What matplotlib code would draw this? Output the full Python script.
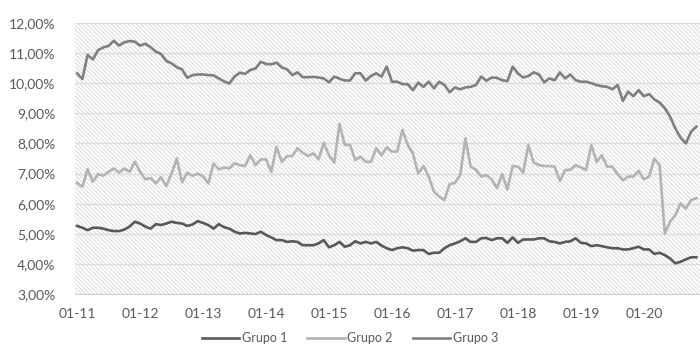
import numpy as np
import matplotlib
matplotlib.use('Agg')
import matplotlib.pyplot as plt
from matplotlib.patches import Rectangle

# Monthly series (%), Jan 2011 onwards
grupo1 = [5.26, 5.20, 5.12, 5.20, 5.20, 5.17, 5.12, 5.09, 5.09, 5.14, 5.24, 5.40,
          5.34, 5.24, 5.17, 5.32, 5.29, 5.34, 5.40, 5.36, 5.34, 5.26, 5.31, 5.42,
          5.36, 5.29, 5.17, 5.32, 5.22, 5.17, 5.07, 5.01, 5.03, 5.01, 4.99, 5.07,
          4.96, 4.88, 4.79, 4.79, 4.73, 4.75, 4.73, 4.62, 4.62, 4.62, 4.68, 4.79,
          4.55, 4.62, 4.73, 4.57, 4.62, 4.75, 4.68, 4.73, 4.68, 4.73, 4.61, 4.52,
          4.46, 4.52, 4.55, 4.52, 4.44, 4.46, 4.46, 4.33, 4.37, 4.37, 4.52, 4.62,
          4.68, 4.75, 4.85, 4.73, 4.73, 4.85, 4.86, 4.79, 4.85, 4.85, 4.70, 4.88,
          4.70, 4.81, 4.81, 4.81, 4.85, 4.85, 4.75, 4.73, 4.68, 4.73, 4.75, 4.85,
          4.70, 4.68, 4.59, 4.62, 4.59, 4.55, 4.52, 4.52, 4.48, 4.48, 4.52, 4.57,
          4.48, 4.48, 4.33, 4.37, 4.29, 4.18, 4.02, 4.07, 4.15, 4.22, 4.22]

grupo2 = [6.69, 6.56, 7.14, 6.73, 6.98, 6.93, 7.06, 7.17, 7.03, 7.17, 7.06, 7.39,
          7.06, 6.81, 6.85, 6.67, 6.88, 6.58, 7.00, 7.50, 6.71, 7.03, 6.92, 7.00,
          6.90, 6.67, 7.34, 7.14, 7.20, 7.17, 7.34, 7.28, 7.25, 7.61, 7.28, 7.47,
          7.47, 7.06, 7.89, 7.39, 7.58, 7.58, 7.84, 7.69, 7.58, 7.67, 7.47, 8.02,
          7.61, 7.36, 8.65, 7.95, 7.95, 7.45, 7.56, 7.39, 7.39, 7.84, 7.61, 7.87,
          7.73, 7.73, 8.45, 7.95, 7.67, 7.00, 7.25, 6.90, 6.40, 6.23, 6.12, 6.65,
          6.69, 6.95, 8.17, 7.23, 7.12, 6.90, 6.95, 6.81, 6.51, 6.98, 6.47, 7.25,
          7.23, 7.03, 7.95, 7.36, 7.28, 7.25, 7.25, 7.23, 6.75, 7.12, 7.12, 7.28,
          7.20, 7.12, 7.95, 7.39, 7.61, 7.23, 7.23, 6.98, 6.77, 6.90, 6.90, 7.09,
          6.81, 6.90, 7.50, 7.28, 5.01, 5.40, 5.62, 6.01, 5.84, 6.12, 6.18]

grupo3 = [10.33, 10.14, 10.94, 10.79, 11.10, 11.19, 11.24, 11.41, 11.25, 11.36, 11.40, 11.38,
          11.25, 11.31, 11.20, 11.05, 10.97, 10.74, 10.66, 10.53, 10.46, 10.18, 10.27, 10.29,
          10.29, 10.27, 10.26, 10.16, 10.06, 9.99, 10.22, 10.35, 10.31, 10.44, 10.49, 10.71,
          10.64, 10.63, 10.68, 10.53, 10.46, 10.27, 10.36, 10.20, 10.20, 10.21, 10.19, 10.16,
          10.03, 10.22, 10.15, 10.09, 10.09, 10.33, 10.33, 10.09, 10.24, 10.33, 10.22, 10.55,
          10.05, 10.05, 9.97, 9.97, 9.77, 10.02, 9.88, 10.05, 9.83, 10.05, 9.94, 9.70,
          9.86, 9.80, 9.86, 9.88, 9.94, 10.22, 10.08, 10.19, 10.18, 10.10, 10.07, 10.55,
          10.33, 10.19, 10.24, 10.36, 10.29, 10.03, 10.16, 10.10, 10.36, 10.16, 10.29, 10.10,
          10.05, 10.05, 10.00, 9.94, 9.90, 9.88, 9.80, 9.94, 9.41, 9.72, 9.57, 9.77,
          9.57, 9.64, 9.46, 9.36, 9.17, 8.89, 8.50, 8.19, 8.00, 8.39, 8.56]

tick_labels = ['01-11', '01-12', '01-13', '01-14', '01-15',
               '01-16', '01-17', '01-18', '01-19', '01-20']
series_names = ['Grupo 1', 'Grupo 2', 'Grupo 3']
colors = ['#595959', '#b3b3b3', '#7f7f7f']

plt.rcParams['font.family'] = ['Lato', 'DejaVu Sans']
plt.rcParams['hatch.linewidth'] = 0.6
plt.rcParams['hatch.color'] = '#d6d6d6'

fig = plt.figure(figsize=(7, 3.56), dpi=100)
ax = fig.add_axes([75 / 700, 62 / 356, 625 / 700, 271 / 356])

# diagonal hatched plot background
ax.add_patch(Rectangle((0, 0), 1, 1, transform=ax.transAxes, facecolor='white',
                       edgecolor='#d6d6d6', hatch='\\' * 8, lw=0, zorder=0))

months = np.arange(len(grupo1))
for vals, name, c in zip([grupo1, grupo2, grupo3], series_names, colors):
    ax.plot(months, vals, color=c, lw=1.9, label=name, zorder=3,
            solid_joinstyle='round')

ax.set_ylim(3, 12)
ax.set_yticks(np.arange(3, 12.5, 1))
ax.set_yticklabels([f'{v:.2f}%'.replace('.', ',') for v in np.arange(3, 12.5, 1)])
ax.set_xlim(-0.4, 118.7)
ax.set_xticks(np.arange(0, 12 * len(tick_labels), 12))
ax.set_xticklabels(tick_labels)

ax.grid(axis='y', color='#dcdcdc', lw=1.0, zorder=1)
ax.set_axisbelow(False)
for s in ['top', 'right', 'left']:
    ax.spines[s].set_visible(False)
ax.spines['bottom'].set_color('#d0d0d0')
ax.spines['bottom'].set_zorder(1)
ax.tick_params(length=0, labelsize=10, colors='#595959')
ax.tick_params(axis='y', pad=14)
ax.tick_params(axis='x', pad=10)

fig.legend(loc='center', bbox_to_anchor=(0.5, 18 / 356), ncol=3, frameon=False,
           fontsize=9, handlelength=3.0, handletextpad=0.2, columnspacing=1.6,
           labelcolor='#595959')

fig.savefig('out.png', dpi=100)
